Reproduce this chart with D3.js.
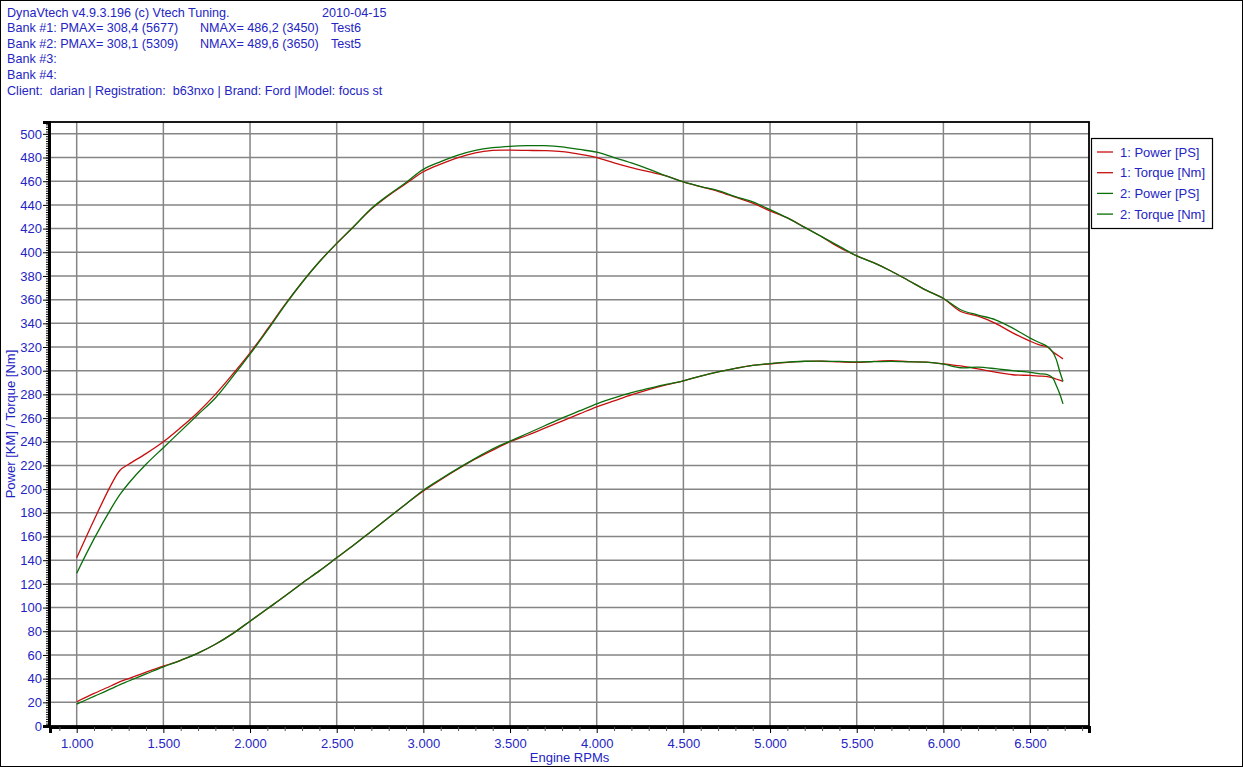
<!DOCTYPE html>
<html>
<head>
<meta charset="utf-8">
<script src="https://cdn.jsdelivr.net/npm/d3@7"></script>
<style>
  html, body { margin: 0; padding: 0; background: #fff; }
  svg { display: block; }
  text { font-family: "Liberation Sans", Arial, sans-serif; }
</style>
</head>
<body>
<svg id="chart" width="1243" height="767"></svg>
<script>
// ---------------- DATA ----------------
const rpm = [1000,1100,1200,1250,1300,1400,1500,1600,1700,1800,1900,2000,
  2100,2200,2300,2400,2500,2600,2700,2800,2900,3000,
  3100,3200,3300,3400,3500,3600,3700,3800,3900,4000,
  4100,4200,4300,4400,4500,4600,4700,4800,4900,5000,
  5100,5200,5300,5400,5500,5600,5700,5800,5900,6000,
  6100,6200,6300,6400,6500,6550,6600,6630,6650,6670,6690];

const power1 = [20.5,27.5,34,37.5,40,45.5,50.5,55.5,61.5,69,78,88.5,
  99,109.5,120.5,131,142,153,164.5,176,187.5,198.5,
  208,217,225.5,233,240,245.5,251.5,257.5,263.5,269.5,
  274.5,279.5,284,288,291.5,295.5,299,302,304.5,305.8,
  307,307.8,308,307.4,307,307.8,308.4,307.6,307.2,305.8,
  304,301.5,298.8,296.6,296,295.5,295,294,293,292,291];

const torque1 = [142,174,204,216,221,230,240,252,265,280,297,315,
  335,355.5,374.5,392,407.5,422,436.5,448,458,468,
  474.5,480,484,486,486.2,486,485.8,485,482.8,480,
  475.5,471.5,468,464.5,459.5,455.5,451.5,446.5,441.5,435,
  429,421,413,404,397,391,384,376,368,361,
  350,346,340,332,325,322,320,316,314,312,310];

const power2 = [18.5,25,31.5,35,38,44,50,55.5,61.5,69,78,88.5,
  99,109.5,120.5,131,142,153,164.5,176,187.5,199,
  208.5,217.5,226,234,240.5,247,253.5,260,266,272,
  277,281.5,285,288.5,291.5,295.5,299,302,304.5,306,
  307.2,308,308.1,307.8,307.5,307.6,307.8,307.5,307.2,305.5,
  302.5,303,301.7,300,298.6,297.5,296.6,294,288,281,272];

const torque2 = [129,158,184,195.5,205,221,235,249,263,277,295,314,
  334,355,374.5,392,407.5,422,437,448.5,459,470,
  476.5,482,486,488.3,489.5,490,490,489,486.8,484.5,
  480,475.5,470.3,464.5,459.5,455.5,452,447,442.5,436,
  429,421,413,405,397,391,384,376,368,361,
  351.5,347,343,336,327.5,324,320.5,316,310,300,291];

const seriesNames = ["1: Power [PS]", "1: Torque [Nm]", "2: Power [PS]", "2: Torque [Nm]"];
const xTickValues = [1000,1500,2000,2500,3000,3500,4000,4500,5000,5500,6000,6500];
const xTickLabels = ["1.000","1.500","2.000","2.500","3.000","3.500","4.000","4.500","5.000","5.500","6.000","6.500"];
const yTickValues = d3.range(0, 501, 20);

const headerLines = [
  "DynaVtech v4.9.3.196 (c) Vtech Tuning.",
  "Bank #1: PMAX= 308,4 (5677)",
  "Bank #2: PMAX= 308,1 (5309)",
  "Bank #3:",
  "Bank #4:",
  "Client:  darian | Registration:  b63nxo | Brand: Ford |Model: focus st"
];
const headerDate = "2010-04-15";
const nmaxTexts = ["NMAX= 486,2 (3450)", "NMAX= 489,6 (3650)"];
const testTexts = ["Test6", "Test5"];

// ---------------- STYLE / LAYOUT ----------------
const W = 1243, H = 767;
const plot = { left: 50, right: 1089, top: 122, bottom: 726 };
const BLUE = "#2424c4";
const RED = "#c80f0f";
const GREEN = "#0a6e0a";
const FS = 13;
const HFS = 12.6;
const seriesColors = [RED, RED, GREEN, GREEN];

const svg = d3.select("#chart");
svg.append("rect").attr("x", 0).attr("y", 0).attr("width", W).attr("height", H).attr("fill", "#fff");
svg.append("rect").attr("x", 0.5).attr("y", 0.5).attr("width", W - 1).attr("height", H - 1)
  .attr("fill", "none").attr("stroke", "#000").attr("stroke-width", 1);

const x = d3.scaleLinear().domain([846, 6840]).range([plot.left, plot.right]);
const y = d3.scaleLinear().domain([0, 510]).range([plot.bottom, plot.top]);

// header
const hdr = svg.append("g").attr("font-size", HFS).attr("fill", BLUE);
const baselines = [16.5, 32, 47.5, 63, 78.5, 94.5];
headerLines.forEach((t, i) => {
  hdr.append("text").attr("x", 7).attr("y", baselines[i]).attr("xml:space", "preserve")
    .style("white-space", "pre").text(t);
});
hdr.append("text").attr("x", 322).attr("y", baselines[0]).text(headerDate);
nmaxTexts.forEach((t, i) => hdr.append("text").attr("x", 200).attr("y", baselines[i + 1]).text(t));
testTexts.forEach((t, i) => hdr.append("text").attr("x", 331).attr("y", baselines[i + 1]).text(t));

// grid
const grid = svg.append("g").attr("stroke", "#858585").attr("stroke-width", 1.5);
yTickValues.filter(v => v > 0).forEach(v => {
  grid.append("line").attr("x1", plot.left).attr("x2", plot.right).attr("y1", y(v)).attr("y2", y(v));
});
xTickValues.forEach(v => {
  grid.append("line").attr("x1", x(v)).attr("x2", x(v)).attr("y1", plot.top).attr("y2", plot.bottom);
});

// curves
const lineGen = d3.line().x((d, i) => x(rpm[i])).y(d => y(d)).curve(d3.curveCatmullRom.alpha(0.5));
const seriesData = [power1, torque1, power2, torque2];
[0, 1, 2, 3].forEach(k => {
  svg.append("path").datum(seriesData[k]).attr("d", lineGen)
    .attr("fill", "none").attr("stroke", seriesColors[k]).attr("stroke-width", 1.3);
});

// frame
svg.append("rect").attr("x", plot.left).attr("y", plot.top)
  .attr("width", plot.right - plot.left).attr("height", plot.bottom - plot.top)
  .attr("fill", "none").attr("stroke", "#000").attr("stroke-width", 1.8);

// y axis
const yAxis = d3.axisLeft(y).tickValues(yTickValues).tickSize(6).tickPadding(1).tickFormat(d3.format("d"));
const yg = svg.append("g").attr("transform", `translate(${plot.left - 1},0)`).call(yAxis);
yg.select(".domain").attr("stroke", "#000").attr("stroke-width", 3);
yg.selectAll(".tick line").attr("stroke", "#000").attr("stroke-width", 1);
yg.selectAll(".tick text").attr("fill", BLUE).attr("font-size", FS)
  .attr("font-family", "'Liberation Sans', Arial, sans-serif");
const yMinor = d3.axisLeft(y).tickValues(d3.range(0, 510, 2)).tickSize(3).tickFormat("");
const ym = svg.append("g").attr("transform", `translate(${plot.left - 1},0)`).call(yMinor);
ym.select(".domain").remove();
ym.selectAll(".tick line").attr("stroke", "#000").attr("stroke-width", 1);

// x axis
const xAxis = d3.axisBottom(x).tickValues(xTickValues).tickSize(6).tickPadding(6)
  .tickFormat((d, i) => xTickLabels[i]);
const xg = svg.append("g").attr("transform", `translate(0,${plot.bottom + 1})`).call(xAxis);
xg.select(".domain").attr("stroke", "#000").attr("stroke-width", 3);
xg.selectAll(".tick line").attr("stroke", "#000").attr("stroke-width", 1);
xg.selectAll(".tick text").attr("fill", BLUE).attr("font-size", FS)
  .attr("font-family", "'Liberation Sans', Arial, sans-serif");
const xMinor = d3.axisBottom(x).tickValues(d3.range(900, 6840, 100).filter(v => v % 500 !== 0)).tickSize(4).tickFormat("");
const xm = svg.append("g").attr("transform", `translate(0,${plot.bottom + 1})`).call(xMinor);
xm.select(".domain").remove();
xm.selectAll(".tick line").attr("stroke", "#555").attr("stroke-width", 1);

// axis titles
svg.append("text").attr("x", (plot.left + plot.right) / 2).attr("y", 762)
  .attr("text-anchor", "middle").attr("font-size", FS).attr("fill", BLUE).text("Engine RPMs");
svg.append("text").attr("transform", `translate(15,${(plot.top + plot.bottom) / 2}) rotate(-90)`)
  .attr("text-anchor", "middle").attr("font-size", FS).attr("fill", BLUE).text("Power [KM] / Torque [Nm]");

// legend
const lg = svg.append("g");
lg.append("rect").attr("x", 1091.5).attr("y", 138.5).attr("width", 121).attr("height", 90)
  .attr("fill", "#fff").attr("stroke", "#000").attr("stroke-width", 1.2);
seriesNames.forEach((name, i) => {
  const yy = 152 + i * 20.7;
  lg.append("line").attr("x1", 1097).attr("x2", 1113).attr("y1", yy).attr("y2", yy)
    .attr("stroke", seriesColors[i]).attr("stroke-width", 1.3);
  lg.append("text").attr("x", 1120).attr("y", yy + 4.5).attr("font-size", FS).attr("fill", BLUE).text(name);
});
</script>
</body>
</html>
